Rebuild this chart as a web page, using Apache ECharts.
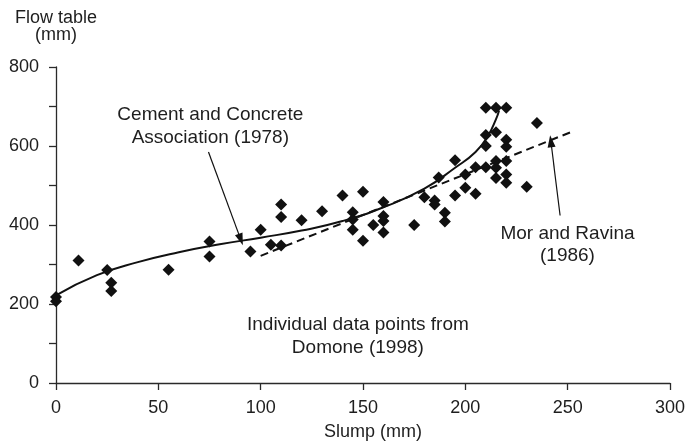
<!DOCTYPE html>
<html>
<head>
<meta charset="utf-8">
<script src="https://cdn.jsdelivr.net/npm/echarts@6/dist/echarts.min.js"></script>
<style>
  html, body { margin: 0; padding: 0; background: #fff; }
  #chart { width: 688px; height: 441px; }
</style>
</head>
<body>
<div id="chart"></div>
<script>
// Individual measurements (Domone 1998): slump vs flow table spread, both in mm
const pointSlump = [0, 0, 11, 25, 27, 27, 55, 75, 75, 95, 100, 105, 110, 110, 110, 120, 130, 140,
  145, 145, 145, 150, 150, 155, 160, 160, 160, 160, 175, 180, 185, 185, 187, 190, 190, 195, 195,
  200, 200, 205, 205, 210, 210, 210, 210, 215, 215, 215, 215, 215, 220, 220, 220, 220, 220, 220, 230, 235];
const pointFlow = [218, 207, 310, 286, 254, 233, 287, 358, 320, 333, 388, 350, 348, 452, 420, 412, 435, 475,
  432, 414, 388, 484, 360, 400, 458, 423, 410, 381, 400, 470, 462, 452, 520, 431, 409, 564, 475,
  528, 494, 546, 479, 697, 628, 600, 546, 697, 635, 562, 545, 519, 697, 616, 598, 562, 528, 507, 497, 658];

// Cement and Concrete Association (1978) relationship
const ccaSlump = [0, 20, 40, 60, 80, 100, 120, 140, 160, 180, 195, 205, 211, 215, 216.5];
const ccaFlow = [222, 273, 306, 331, 351, 368, 386, 410, 445, 492, 545, 585, 625, 668, 690];

// Mor and Ravina (1986) relationship
const morSlump = [100, 252];
const morFlow = [322, 636];

// Axis ranges and tick steps
const xTicks = { min: 0, max: 300, step: 50 };
const yTicks = { min: 0, max: 800, step: 200 };

// Annotation texts
const ccaLabel = ['Cement and Concrete', 'Association (1978)'];
const morLabel = ['Mor and Ravina', '(1986)'];
const domoneLabel = ['Individual data points from', 'Domone (1998)'];
const yTitle = ['Flow table', '(mm)'];
const xTitle = 'Slump (mm)';

const zip = (a, b) => a.map((v, i) => [v, b[i]]);

const FONT = '"Liberation Sans", Arial, Helvetica, sans-serif';
const INK = '#111';
const TEXT = '#1e1e1e';

const chart = echarts.init(document.getElementById('chart'), null, { renderer: 'canvas' });

const axisLine = { show: true, lineStyle: { color: '#2a2a2a', width: 1.3 } };

chart.setOption({
  animation: false,
  backgroundColor: '#fff',
  grid: { left: 56, right: 15, top: 67, bottom: 58, containLabel: false },
  xAxis: {
    type: 'value',
    min: xTicks.min, max: xTicks.max, interval: xTicks.step,
    axisLine: axisLine,
    axisTick: { show: true, inside: false, length: 7, lineStyle: { color: '#2a2a2a', width: 1.3 } },
    axisLabel: { color: TEXT, fontFamily: FONT, fontSize: 18, margin: 16 },
    splitLine: { show: false }
  },
  yAxis: {
    type: 'value',
    min: yTicks.min, max: yTicks.max, interval: yTicks.step,
    axisLine: axisLine,
    axisTick: { show: true, inside: false, length: 7, lineStyle: { color: '#2a2a2a', width: 1.3 } },
    minorTick: { show: true, splitNumber: 2, length: 7, lineStyle: { color: '#2a2a2a', width: 1.3 } },
    axisLabel: { color: TEXT, fontFamily: FONT, fontSize: 18, margin: 17 },
    splitLine: { show: false },
    minorSplitLine: { show: false }
  },
  series: [
    {
      name: 'Domone (1998)',
      type: 'scatter',
      data: zip(pointSlump, pointFlow),
      symbol: 'diamond',
      symbolSize: 12,
      itemStyle: { color: INK, opacity: 1 },
      emphasis: { disabled: true },
      z: 3,
      markLine: {
        silent: true,
        symbol: ['none', 'triangle'],
        symbolSize: [8, 12],
        lineStyle: { type: 'solid', color: INK, width: 1.2, opacity: 1 },
        label: { show: false },
        emphasis: { disabled: true },
        data: [
          [{ coord: [74.5, 585] }, { coord: [90.3, 363] }],
          [{ coord: [246.3, 424] }, { coord: [241.8, 612] }]
        ]
      }
    },
    {
      name: 'Cement and Concrete Association (1978)',
      type: 'line',
      data: zip(ccaSlump, ccaFlow),
      smooth: 0.5,
      showSymbol: false,
      lineStyle: { color: INK, width: 2 },
      emphasis: { disabled: true },
      z: 2
    },
    {
      name: 'Mor and Ravina (1986)',
      type: 'line',
      data: zip(morSlump, morFlow),
      showSymbol: false,
      lineStyle: { color: INK, width: 2, type: [8, 5] },
      emphasis: { disabled: true },
      z: 2
    }
  ]
});

// Text blocks anchored in data space, converted to pixels once the grid exists
function textBlock(lines, anchor, lineGap, size) {
  const p = chart.convertToPixel({ gridIndex: 0 }, anchor);
  const top = p[1] - (lines.length - 1) * lineGap / 2;
  return lines.map((t, i) => ({
    type: 'text',
    silent: true,
    x: p[0],
    y: top + i * lineGap,
    style: {
      text: t, fill: TEXT, font: size + 'px ' + FONT,
      textAlign: 'center', textVerticalAlign: 'middle'
    }
  }));
}

const graphics = []
  .concat(textBlock(ccaLabel, [75.4, 651], 23, 19))
  .concat(textBlock(morLabel, [249.9, 351], 22, 19))
  .concat(textBlock(domoneLabel, [147.5, 118], 23, 19));

// Axis titles
yTitle.forEach((t, i) => graphics.push({
  type: 'text', silent: true, x: 56, y: 18 + i * 17,
  style: { text: t, fill: TEXT, font: '18px ' + FONT, textAlign: 'center', textVerticalAlign: 'middle' }
}));
graphics.push({
  type: 'text', silent: true, x: 373, y: 432,
  style: { text: xTitle, fill: TEXT, font: '18px ' + FONT, textAlign: 'center', textVerticalAlign: 'middle' }
});

chart.setOption({ graphic: graphics });
</script>
</body>
</html>
